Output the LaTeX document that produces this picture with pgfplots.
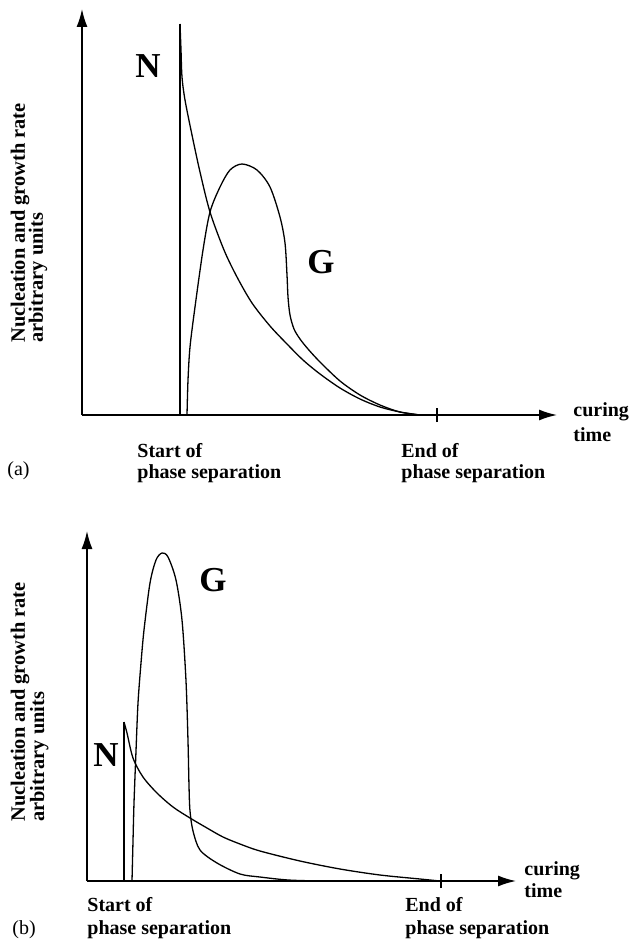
\documentclass[border=0pt]{standalone}
\usepackage{fontspec}
\setmainfont{Liberation Serif}
\usepackage{pgfplots}
\pgfplotsset{compat=1.18}
\usetikzlibrary{arrows.meta}
\pgfplotsset{
  schem/.style={
    x=0.5pt, y=0.5pt, anchor=south west,
    axis lines=left,
    axis line style={line width=0.8pt},
    x axis line style={-{Latex[length=9pt,width=5.5pt]}},
    y axis line style={-{Latex[length=9pt,width=5.5pt]}},
    ytick=\empty, xticklabels={},
    tick align=center, major tick length=7pt,
    tick style={line width=0.7pt, black},
    clip=false,
  },
  curve/.style={black, line width=0.65pt, no marks, smooth, tension=0.5},
  vline/.style={black, line width=0.75pt, no marks},
}
\tikzset{
  lab/.style={font=\fontsize{10}{10}\selectfont\bfseries, inner sep=0pt, anchor=base west},
  ylab/.style={font=\fontsize{10.2}{10}\selectfont\bfseries, inner sep=0pt, anchor=base west, rotate=90},
  big/.style={font=\fontsize{17.5}{18}\selectfont\bfseries, inner sep=0pt},
  plab/.style={font=\fontsize{10}{10}\selectfont, inner sep=0pt, anchor=base west},
}
\begin{document}
\begin{tikzpicture}
\useasboundingbox (0,0) rectangle (315pt,-470.5pt);
% ---------------- panel (a) ----------------
\begin{axis}[schem, at={(41pt,-207.5pt)}, xmin=0, xmax=475, ymin=0, ymax=406, xtick={355}]
\addplot[vline] coordinates {(98,0) (98,391)};
\addplot[curve] coordinates {
(98,391) (99,365) (100,338) (103,315) (110,280) (118,243) (128,203) (142,165)
(155,138) (170,112) (188,89) (205,71) (221,55) (238,41) (258,27) (278,16)
(298,8) (318,3) (338,0)};
\addplot[curve] coordinates {
(105,0) (106,35) (108,68) (113,108) (121,165) (128,203) (138,228) (148,245)
(160,251) (175,245) (188,228) (198,198) (203,172) (205,140) (206,118) (208,100)
(212,86) (218,76) (226,66) (238,53) (258,34) (278,20) (298,10) (318,3) (338,0)};
\node[big] at (axis cs:66,349) {N};
\node[big] at (axis cs:239,153) {G};
\node[lab] at (axis cs:55,-42) {Start of};
\node[lab] at (axis cs:55,-63) {phase separation};
\node[lab] at (axis cs:319,-42) {End of};
\node[lab] at (axis cs:319,-63) {phase separation};
\node[lab] at (axis cs:491,-1) {curing};
\node[lab] at (axis cs:491,-26) {time};
\node[plab] at (axis cs:-75,-60) {(a)};
\node[ylab] at (axis cs:-57,72) {Nucleation and growth rate};
\node[ylab] at (axis cs:-39,72) {arbitrary units};
\end{axis}
% ---------------- panel (b) ----------------
\begin{axis}[schem, at={(43.5pt,-440.5pt)}, xmin=0, xmax=429, ymin=0, ymax=350, xtick={354}]
\addplot[vline] coordinates {(37,0) (37,159)};
\addplot[curve] coordinates {
(37,159) (40,148) (46,123) (56,104) (70,88) (86,74) (103,63) (120,53)
(136,44) (153,37) (173,30) (213,20) (253,12) (293,6) (333,2) (353,0)};
\addplot[curve] coordinates {
(45,0) (46,40) (47,78) (49,130) (51,178) (54,218) (57,251) (63,298) (69,321)
(75,328) (81,324) (89,301) (95,261) (99,200) (101,140) (102,95) (103,70)
(106,50) (113,31) (130,18) (153,7) (173,4) (201,1) (233,0)};
\node[big] at (axis cs:19,126) {N};
\node[big] at (axis cs:126,301) {G};
\node[lab] at (axis cs:0,-30) {Start of};
\node[lab] at (axis cs:0,-53) {phase separation};
\node[lab] at (axis cs:318,-30) {End of};
\node[lab] at (axis cs:318,-53) {phase separation};
\node[lab] at (axis cs:437,6) {curing};
\node[lab] at (axis cs:437,-16) {time};
\node[plab] at (axis cs:-75,-53) {(b)};
\node[ylab] at (axis cs:-62,59) {Nucleation and growth rate};
\node[ylab] at (axis cs:-43,59) {arbitrary units};
\end{axis}
\end{tikzpicture}
\end{document}
